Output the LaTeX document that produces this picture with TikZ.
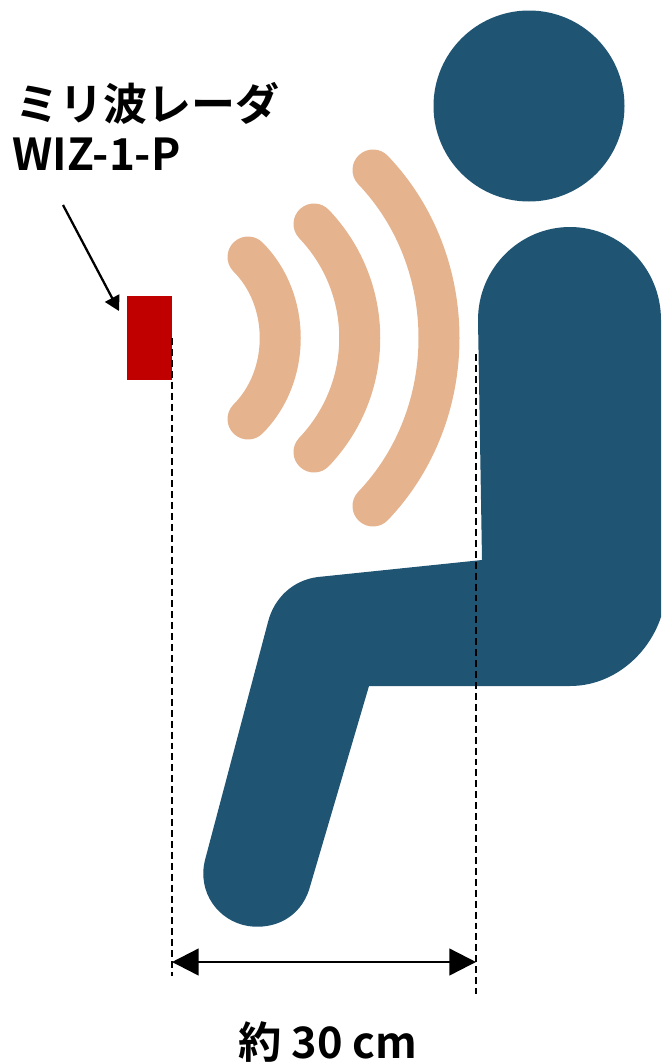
\documentclass[tikz,border=0pt]{standalone}
\usepackage{fontspec}
\setmainfont{Noto Sans CJK JP}[BoldFont={* Bold}]
\usetikzlibrary{arrows.meta}
\definecolor{body}{HTML}{1F5473}
\definecolor{wave}{HTML}{E5B38D}
\definecolor{radar}{HTML}{C00000}
\tikzset{x=0.75pt,y=-0.75pt,
 dim/.style={draw=black,line width=1pt,dash pattern=on 5.2pt off 3pt},
 wavearc/.style={draw=wave,line width=30.75pt,line cap=round},
 lbl/.style={font=\bfseries\fontsize{33pt}{36pt}\selectfont,inner sep=0pt,anchor=west}}
\begin{document}
\begin{tikzpicture}
\useasboundingbox (0,0) rectangle (661,1064);
% person
\fill[body] (529,106) circle[radius=95.5];
\fill[body] (478,320) .. controls (478,268) and (520,227) .. (570,227)
 .. controls (620,227) and (661,268) .. (661,320)
 -- (661,617) .. controls (648,656) and (612,686) .. (570,686)
 -- (369,686) -- (309,890) .. controls (300,917) and (275,930) .. (248,926)
 .. controls (218,921) and (197,892) .. (205,860)
 -- (268,622) .. controls (274,598) and (293,580) .. (318,577)
 -- (482,560) -- cycle;
% waves
\draw[wavearc] (248,257) .. controls (291,300) and (291,376) .. (248,419);
\draw[wavearc] (314,224) .. controls (375,288) and (375,388) .. (314,452);
\draw[wavearc] (373,170) .. controls (461,262) and (461,414) .. (373,506);
% radar
\node[fill=radar,minimum width=33.75pt,minimum height=63pt,inner sep=0pt,anchor=north west] (radar) at (127,296) {};
% labels
\node[lbl] (name) at (15,103) {ミリ波レーダ};
\node[lbl] (model) at (12,154) {WIZ-1-P};
\coordinate (ptr) at (63,205);
\coordinate (ptrtip) at (119,311);
\draw[-{Triangle[length=11pt,width=12pt]},line width=1.7pt] (ptr) -- (ptrtip);
% dimensions
\coordinate (la) at (172,338);
\coordinate (lb) at (172,976);
\coordinate (ra) at (476,354);
\coordinate (rb) at (476,994);
\draw[dim] (la) -- (lb);
\draw[dim] (ra) -- (rb);
\coordinate (da) at (172,962);
\coordinate (db) at (476,962);
\draw[{Triangle[length=20pt,width=20pt]}-{Triangle[length=20pt,width=20pt]},line width=1.8pt] (da) -- (db);
\node[font=\bfseries\fontsize{32.5pt}{36pt}\selectfont,inner sep=0pt] (dist) at (328,1042) {約 30 cm};
\end{tikzpicture}
\end{document}
